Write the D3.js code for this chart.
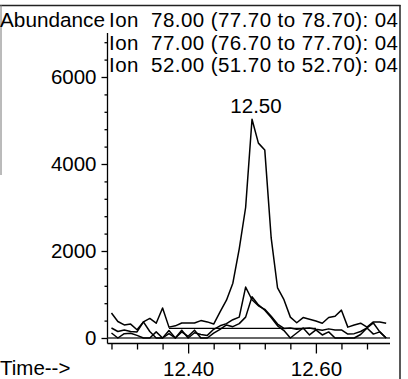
<!DOCTYPE html>
<html>
<head>
<meta charset="utf-8">
<script src="https://cdn.jsdelivr.net/npm/d3@7"></script>
<style>
    body { margin: 0; background: #fff; }
    #chart { width: 408px; height: 379px; }
    text { font-family: "Liberation Sans", Arial, sans-serif; fill: #000; }
</style>
</head>
<body>
<div id="chart"></div>
<script>
// retention times (min), one per scan
const times = [12.28, 12.29, 12.30, 12.31, 12.32, 12.33, 12.34, 12.35, 12.36, 12.37, 12.38,
    12.39, 12.40, 12.41, 12.42, 12.43, 12.44, 12.45, 12.46, 12.47, 12.48, 12.49,
    12.50, 12.51, 12.52, 12.53, 12.54, 12.55, 12.56, 12.57, 12.58, 12.59, 12.60,
    12.61, 12.62, 12.63, 12.64, 12.65, 12.66, 12.67, 12.68, 12.69, 12.70, 12.71];

// abundance of each extracted ion
const ion78 = [575, 380, 300, 320, 190, 370, 450, 340, 690, 250, 280, 345, 345, 345, 400, 370,
    320, 600, 870, 1260, 2050, 3000, 5030, 4480, 4320, 2300, 1150, 880, 480, 350, 470, 430,
    390, 340, 470, 500, 640, 250, 300, 340, 250, 370, 370, 340];
const ion77 = [230, 150, 185, 150, 140, 370, 150, 0, 0, 100, 0, 180, 0, 120, 80, 60,
    200, 280, 330, 420, 480, 1170, 880, 740, 660, 500, 320, 220, 230, 200, 220, 230,
    200, 180, 210, 185, 185, 90, 100, 150, 230, 345, 140, 0];
const ion52 = [115, 0, 100, 110, 60, 0, 0, 140, 0, 170, 0, 140, 40, 180, 0, 0,
    110, 200, 300, 260, 330, 480, 950, 760, 640, 470, 280, 170, 0, 115, 230, 70,
    185, 70, 140, 0, 0, 0, 0, 80, 230, 90, 140, 0];

// integration baseline drawn under the peak
const baselineTimes = [12.37, 12.60];
const baselineValues = [220, 220];

const ionLabels = [
    "Ion  78.00 (77.70 to 78.70): 04",
    "Ion  77.00 (76.70 to 77.70): 04",
    "Ion  52.00 (51.70 to 52.70): 04"
];
const peakTime = 12.50;
const peakLabel = "12.50";

const yTicks = [0, 2000, 4000, 6000];
const yMinorTicks = [400, 800, 1200, 1600, 2400, 2800, 3200, 3600, 4400, 4800, 5200, 5600, 6400, 6800];
const xTicks = [12.40, 12.60];
const xMinorTicks = [12.28, 12.32, 12.36, 12.44, 12.48, 12.52, 12.56, 12.64, 12.68];


class IonChart {

    constructor(parentElement) {
        this.parentElement = parentElement;
        this.series = [ion78, ion77, ion52];
        this.initVis();
    }

    initVis() {
        let vis = this;

        vis.width = 408;
        vis.height = 379;
        vis.left = 107.5;
        vis.axisY = 343.5;

        vis.svg = d3.select("#" + vis.parentElement).append("svg")
            .attr("width", vis.width)
            .attr("height", vis.height);

        vis.x = d3.scaleLinear()
            .domain([12.273, 12.716])
            .range([107, 390]);

        vis.y = d3.scaleLinear()
            .domain([0, 7000])
            .range([338, 33.5]);

        // frame of the printout
        vis.svg.append("line")
            .attr("x1", 0).attr("x2", 400.5)
            .attr("y1", 5.5).attr("y2", 5.5)
            .attr("stroke", "#222").attr("stroke-width", 1.3);
        vis.svg.append("line")
            .attr("x1", 400).attr("x2", 400)
            .attr("y1", 5).attr("y2", 379)
            .attr("stroke", "#222").attr("stroke-width", 1.5);
        vis.svg.append("line")
            .attr("x1", 1).attr("x2", 1)
            .attr("y1", 5).attr("y2", 175)
            .attr("stroke", "#777").attr("stroke-width", 1);

        // axis lines
        vis.svg.append("line")
            .attr("x1", vis.left).attr("x2", vis.left)
            .attr("y1", 33).attr("y2", vis.axisY)
            .attr("stroke", "#000").attr("stroke-width", 1.3);
        vis.svg.append("line")
            .attr("x1", vis.left).attr("x2", 390)
            .attr("y1", vis.axisY).attr("y2", vis.axisY)
            .attr("stroke", "#000").attr("stroke-width", 1.3);

        // y axis
        vis.yAxis = d3.axisLeft(vis.y)
            .tickValues(yTicks)
            .tickSize(6)
            .tickPadding(5)
            .tickFormat(d3.format("d"));
        vis.yMinor = d3.axisLeft(vis.y)
            .tickValues(yMinorTicks)
            .tickSize(3)
            .tickFormat("");

        vis.svg.append("g")
            .attr("class", "y-axis axis")
            .attr("transform", `translate(${vis.left}, 0)`)
            .call(vis.yAxis);
        vis.svg.append("g")
            .attr("class", "y-minor axis")
            .attr("transform", `translate(${vis.left}, 0)`)
            .call(vis.yMinor);

        // x axis
        vis.xAxis = d3.axisBottom(vis.x)
            .tickValues(xTicks)
            .tickSize(10)
            .tickPadding(8)
            .tickFormat(d3.format(".2f"));
        vis.xMinor = d3.axisBottom(vis.x)
            .tickValues(xMinorTicks)
            .tickSize(6)
            .tickFormat("");

        vis.svg.append("g")
            .attr("class", "x-axis axis")
            .attr("transform", `translate(0, ${vis.axisY})`)
            .call(vis.xAxis);
        vis.svg.append("g")
            .attr("class", "x-minor axis")
            .attr("transform", `translate(0, ${vis.axisY})`)
            .call(vis.xMinor);

        vis.svg.selectAll(".axis .domain").remove();
        vis.svg.selectAll(".axis line").attr("stroke", "#000").attr("stroke-width", 1.3);
        vis.svg.selectAll(".axis text")
            .attr("font-family", "Liberation Sans, Arial, sans-serif")
            .attr("font-size", 20.5)
            .attr("fill", "#000");

        // zero level
        vis.svg.append("line")
            .attr("x1", vis.left).attr("x2", 390)
            .attr("y1", vis.y(0)).attr("y2", vis.y(0))
            .attr("stroke", "#333").attr("stroke-width", 1.3);

        // integration baseline
        vis.baseline = d3.line()
            .x((d, i) => vis.x(baselineTimes[i]))
            .y(d => vis.y(d));
        vis.svg.append("path")
            .attr("d", vis.baseline(baselineValues))
            .attr("fill", "none")
            .attr("stroke", "#000")
            .attr("stroke-width", 1.3);

        // ion traces
        vis.trace = d3.line()
            .x((d, i) => vis.x(times[i]))
            .y(d => vis.y(d));

        vis.svg.selectAll(".trace")
            .data(vis.series)
            .enter()
            .append("path")
            .attr("class", "trace")
            .attr("d", d => vis.trace(d))
            .attr("fill", "none")
            .attr("stroke", "#000")
            .attr("stroke-width", 1.5)
            .attr("stroke-linejoin", "round");

        // peak label
        vis.svg.append("text")
            .attr("x", vis.x(peakTime) + 4)
            .attr("y", vis.y(d3.max(ion78)) - 6)
            .attr("text-anchor", "middle")
            .attr("font-size", 20.5)
            .text(peakLabel);

        // titles
        vis.svg.append("text")
            .attr("x", 0)
            .attr("y", 27)
            .attr("font-size", 20.5)
            .attr("textLength", 105)
            .attr("lengthAdjust", "spacingAndGlyphs")
            .text("Abundance");

        vis.svg.selectAll(".ion-label")
            .data(ionLabels)
            .enter()
            .append("text")
            .attr("class", "ion-label")
            .attr("x", 109)
            .attr("y", (d, i) => 27 + i * 22.5)
            .attr("font-size", 20.5)
            .attr("xml:space", "preserve")
            .attr("textLength", 289)
            .attr("lengthAdjust", "spacing")
            .text(d => d);

        vis.svg.append("text")
            .attr("x", 0)
            .attr("y", 375)
            .attr("font-size", 20.5)
            .text("Time-->");
    }
}

new IonChart("chart");
</script>
</body>
</html>
